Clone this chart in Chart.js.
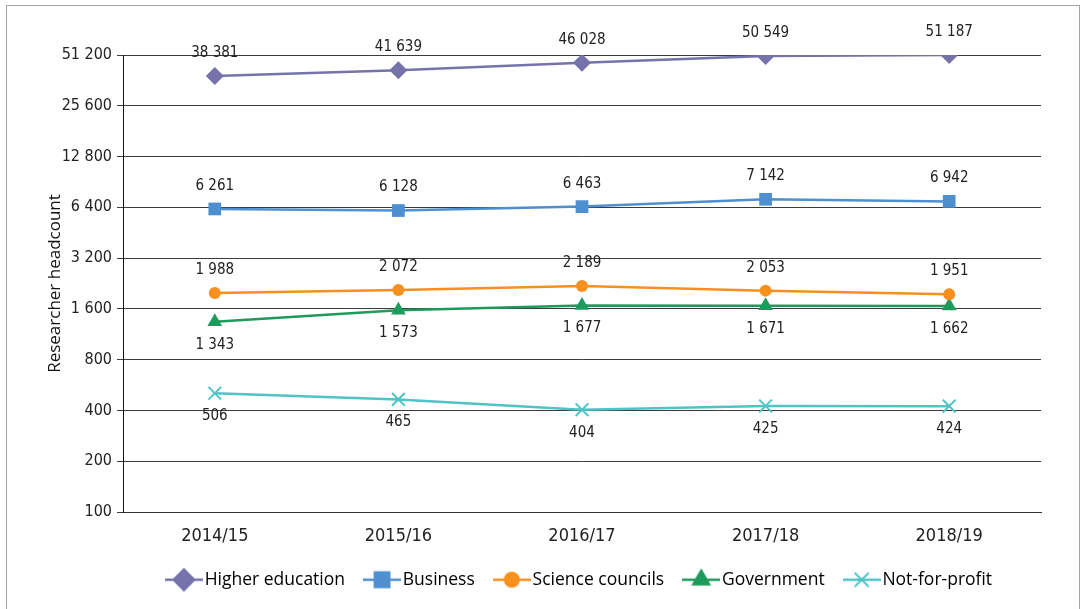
<!DOCTYPE html>
<html>
<head>
<meta charset="utf-8">
<title>Researcher headcount by sector</title>
<script src="https://cdn.jsdelivr.net/npm/chart.js@4.4.1/dist/chart.umd.min.js"></script>
<style>
    html, body { margin: 0; padding: 0; background: #fff; }
    #frame {
        position: absolute; left: 6px; top: 5px;
        width: 1072px; height: 700px;
        border: 1.5px solid #a3a3a3;
    }
    #wrap { position: absolute; left: 0; top: 0; width: 1083px; height: 609px; }
</style>
</head>
<body>
<div id="frame"></div>
<div id="wrap"><canvas id="chart-researchers"></canvas></div>
<script>
// Researcher headcount per sector, log scale (base 2)
const years = ['2014/15', '2015/16', '2016/17', '2017/18', '2018/19'];
const higherEducation = [38381, 41639, 46028, 50549, 51187];
const business = [6261, 6128, 6463, 7142, 6942];
const scienceCouncils = [1988, 2072, 2189, 2053, 1951];
const government = [1343, 1573, 1677, 1671, 1662];
const notForProfit = [506, 465, 404, 425, 424];
const yTicks = [100, 200, 400, 800, 1600, 3200, 6400, 12800, 25600, 51200];

const narrow = "'Liberation Sans Narrow', 'DejaVu Sans Condensed', sans-serif";
const wide = "'Open Sans', sans-serif";
const textColor = '#222';

const fmt = v => String(v).replace(/\B(?=(\d{3})+(?!\d))/g, ' ');

const series = [
    { label: 'Higher education', data: higherEducation, color: '#7672aa', style: 'rectRot', radius: 9, legendRadius: 10.5, above: true },
    { label: 'Business', data: business, color: '#4e8fd0', style: 'rect', radius: 9, legendRadius: 10.5, above: true },
    { label: 'Science councils', data: scienceCouncils, color: '#f7901e', style: 'circle', radius: 6, legendRadius: 7, above: true },
    { label: 'Government', data: government, color: '#1e9a5c', style: 'triangle', radius: 8.5, legendRadius: 9.5, above: false },
    { label: 'Not-for-profit', data: notForProfit, color: '#4fc4c6', style: 'crossRot', radius: 9, legendRadius: 10, above: false }
];

// legend swatch: short line with the marker on top
function legendSwatch(s) {
    const c = document.createElement('canvas');
    c.width = 38; c.height = 24;
    const ctx = c.getContext('2d');
    ctx.strokeStyle = s.color;
    ctx.lineWidth = 2.5;
    ctx.beginPath();
    ctx.moveTo(0, 12); ctx.lineTo(38, 12);
    ctx.stroke();
    ctx.fillStyle = s.color;
    ctx.lineWidth = 2;
    Chart.helpers.drawPoint(ctx, { pointStyle: s.style, radius: s.legendRadius, rotation: 0, borderWidth: 2 }, 19, 12);
    return c;
}

const valueLabels = {
    id: 'valueLabels',
    afterDatasetsDraw(chart) {
        const ctx = chart.ctx;
        ctx.save();
        ctx.font = '15px ' + narrow;
        ctx.fillStyle = textColor;
        ctx.textAlign = 'center';
        ctx.textBaseline = 'middle';
        chart.data.datasets.forEach((ds, i) => {
            const meta = chart.getDatasetMeta(i);
            const s = series[i];
            meta.data.forEach((pt, j) => {
                const dy = s.above ? -23 : 23;
                ctx.fillText(fmt(ds.data[j]), pt.x, pt.y + dy);
            });
        });
        ctx.restore();
    }
};

const ctx = document.getElementById('chart-researchers').getContext('2d');

new Chart(ctx, {
    type: 'line',
    data: {
        labels: years,
        datasets: series.map(s => ({
            label: s.label,
            data: s.data,
            borderColor: s.color,
            backgroundColor: s.color,
            borderWidth: 2.5,
            pointStyle: s.style,
            pointRadius: s.radius,
            pointHoverRadius: s.radius,
            pointBorderWidth: s.style === 'crossRot' ? 2 : 0,
            pointBorderColor: s.color,
            tension: 0,
            fill: false
        }))
    },
    options: {
        responsive: true,
        maintainAspectRatio: false,
        animation: false,
        layout: { padding: { top: 55, right: 42, bottom: 10.5, left: 0 } },
        plugins: {
            tooltip: { enabled: false },
            legend: {
                position: 'bottom',
                fullSize: false,
                labels: {
                    usePointStyle: true,
                    pointStyleWidth: 24,
                    padding: 25,
                    color: '#000',
                    font: { family: wide, size: 17.5 },
                    generateLabels(chart) {
                        return Chart.defaults.plugins.legend.labels.generateLabels(chart).map((item, i) => {
                            item.pointStyle = legendSwatch(series[i]);
                            return item;
                        });
                    }
                }
            }
        },
        scales: {
            x: {
                offset: true,
                grid: { display: false },
                border: { display: true, color: '#333', width: 1 },
                ticks: { color: textColor, padding: 6, font: { family: narrow, size: 18 } },
                afterFit(scale) { scale.height = 34; }
            },
            y: {
                type: 'logarithmic',
                min: 100,
                max: 51200,
                afterBuildTicks(scale) { scale.ticks = yTicks.map(v => ({ value: v })); },
                grid: { color: '#3c3c3c', lineWidth: 1, tickLength: 6 },
                border: { display: true, color: '#111', width: 1 },
                ticks: {
                    color: textColor,
                    padding: 5,
                    font: { family: narrow, size: 16 },
                    callback: v => fmt(v)
                },
                title: {
                    display: true,
                    text: 'Researcher headcount',
                    color: '#111',
                    padding: { top: 45, bottom: 0 },
                    font: { family: wide, size: 17 }
                },
                afterFit(scale) { scale.width = 123; }
            }
        }
    },
    plugins: [valueLabels]
});
</script>
</body>
</html>
